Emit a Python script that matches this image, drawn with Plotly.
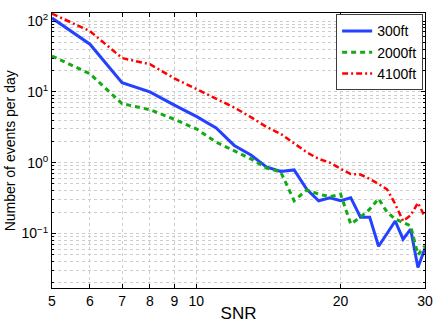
import plotly.graph_objects as go

snr = list(range(5, 31))
ft300 = [110, 47, 13.5, 10, 6.5, 4.5, 3.1, 1.75, 1.28, 0.87, 0.75, 0.79, 0.42,
         0.29, 0.32, 0.29, 0.32, 0.17, 0.17, 0.066, 0.10, 0.15, 0.083, 0.115, 0.033, 0.062]
ft2000 = [32, 18, 6.8, 5.6, 4.1, 3.0, 1.95, 1.48, 1.13, 0.84, 0.74, 0.29, 0.41,
          0.36, 0.33, 0.36, 0.136, 0.17, 0.22, 0.31, 0.2, 0.16, 0.144, 0.128, 0.05, 0.067]
ft4100 = [127, 72, 30, 24.5, 15.5, 11, 7.9, 6.0, 4.4, 3.2, 2.55, 1.85, 1.4,
          1.13, 1.0, 0.82, 0.69, 0.68, 0.59, 0.5, 0.42, 0.26, 0.15, 0.18, 0.27, 0.17]
x_ticks = [5, 6, 7, 8, 9, 10, 20, 30]
y_ticks = [0.1, 1, 10, 100]
y_labels = ["10<sup>−1</sup>", "10<sup>0</sup>", "10<sup>1</sup>", "10<sup>2</sup>"]

fig = go.Figure()
fig.add_trace(go.Scatter(x=snr, y=ft300, mode="lines", name="300ft",
                         line=dict(color="rgb(35,65,255)", width=3)))
fig.add_trace(go.Scatter(x=snr, y=ft2000, mode="lines", name="2000ft",
                         line=dict(color="rgb(20,170,20)", width=3, dash="5px,4px")))
fig.add_trace(go.Scatter(x=snr, y=ft4100, mode="lines", name="4100ft",
                         line=dict(color="rgb(255,0,0)", width=2.5, dash="6px,3px,2px,3px")))

grid = "rgb(205,205,205)"
fig.update_layout(
    width=436, height=323,
    margin=dict(l=52, r=11, t=13, b=35),
    paper_bgcolor="white", plot_bgcolor="white",
    font=dict(family="Liberation Sans, Arial, sans-serif", size=14, color="black"),
    legend=dict(x=0.995, y=0.995, xanchor="right", yanchor="top",
                bgcolor="white", bordercolor="rgb(60,60,60)", borderwidth=1,
                font=dict(size=14), tracegroupgap=0, itemwidth=30),
    xaxis=dict(type="log", range=[0.69897, 1.47712], tickvals=x_ticks,
               ticktext=[str(v) for v in x_ticks], automargin=False,
               showgrid=True, gridcolor=grid, griddash="dot", gridwidth=1,
               showline=True, linecolor="black", linewidth=1, mirror="ticks",
               ticks="inside", ticklen=4, tickcolor="black",
               title=dict(text="SNR", standoff=0), zeroline=False),
    yaxis=dict(type="log", range=[-1.77, 2.113], tickvals=y_ticks, ticktext=y_labels,
               automargin=False,
               showgrid=True, gridcolor=grid, griddash="dot", gridwidth=1,
               minor=dict(dtick="D1", showgrid=True, gridcolor=grid, griddash="dot",
                          ticks="inside", ticklen=2, tickcolor="black"),
               showline=True, linecolor="black", linewidth=1, mirror="ticks",
               ticks="inside", ticklen=4, tickcolor="black", zeroline=False),
    annotations=[dict(text="Number of events per day", textangle=-90,
                      xref="paper", yref="paper", x=-0.113, y=0.5,
                      xanchor="center", yanchor="middle", showarrow=False,
                      font=dict(size=14))],
)

# drop the default body margin so the figure sits at the window's corner
fig.write_html("out.html", config={"displayModeBar": False},
               post_script="document.body.style.margin='0';")
